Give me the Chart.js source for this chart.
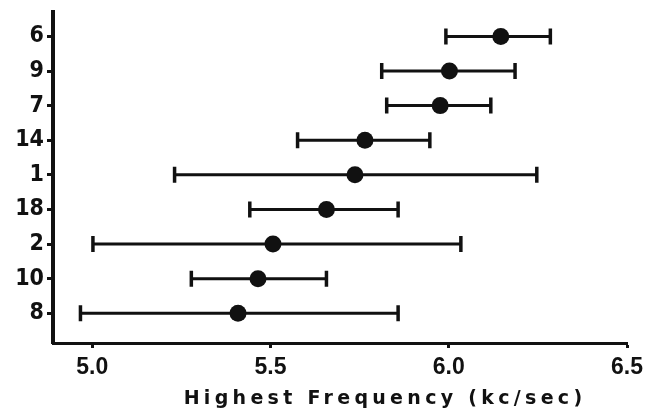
<!DOCTYPE html>
<html>
<head>
<meta charset="utf-8">
<script src="https://cdn.jsdelivr.net/npm/chart.js@4"></script>
<style>
  html, body { margin: 0; padding: 0; background: #fff; }
  #wrap { width: 656px; height: 418px; }
</style>
</head>
<body>
<div id="wrap"><canvas id="c" width="656" height="418"></canvas></div>
<script>
// Subjects (top to bottom)
const categories = ['6', '9', '7', '14', '1', '18', '2', '10', '8'];
// Mean highest frequency (kc/sec)
const means = [6.146, 6.002, 5.976, 5.765, 5.737, 5.657, 5.507, 5.465, 5.409];
// Range low / high (kc/sec)
const lows  = [5.992, 5.812, 5.826, 5.576, 5.231, 5.442, 5.002, 5.278, 4.967];
const highs = [6.285, 6.186, 6.118, 5.947, 6.247, 5.858, 6.034, 5.657, 5.858];
// X axis tick labels
const xTicks = [5.0, 5.5, 6.0, 6.5];
const xTitle = 'Highest Frequency (kc/sec)';

const meanData = means.map((m, i) => ({ x: m, y: i }));
const capData = [];
lows.forEach((l, i) => { capData.push({ x: l, y: i }); capData.push({ x: highs[i], y: i }); });
const whiskerData = [];
lows.forEach((l, i) => {
  whiskerData.push({ x: l, y: i });
  whiskerData.push({ x: highs[i], y: i });
  whiskerData.push({ x: highs[i], y: null });
});

const titlePatch = {
  id: 'titlePatch',
  beforeDraw(chart) {
    const sx = chart.scales.x;
    if (sx && !sx._patched) {
      const orig = sx.drawTitle.bind(sx);
      sx.drawTitle = function () {
        const ctx = this.ctx;
        ctx.save();
        ctx.letterSpacing = '4.3px';
        ctx.translate(45, 0);
        orig();
        ctx.restore();
      };
      sx._patched = true;
    }
  }
};

new Chart(document.getElementById('c'), {
  type: 'scatter',
  data: {
    datasets: [
      {
        data: meanData,
        pointRadius: 8.5,
        pointBackgroundColor: '#111',
        pointBorderColor: '#111',
        pointBorderWidth: 0,
        showLine: false
      },
      {
        data: capData,
        pointStyle: 'line',
        rotation: 90,
        pointRadius: 8,
        pointBorderColor: '#111',
        pointBorderWidth: 3.5,
        showLine: false
      },
      {
        data: whiskerData,
        showLine: true,
        spanGaps: false,
        borderColor: '#111',
        borderWidth: 3,
        pointRadius: 0
      }
    ]
  },
  options: {
    responsive: false,
    animation: false,
    layout: { padding: { left: 0, right: 29, top: 10, bottom: 0 } },
    plugins: { legend: { display: false }, tooltip: { enabled: false } },
    scales: {
      x: {
        type: 'linear',
        min: 4.89,
        max: 6.5,
        afterBuildTicks: (s) => { s.ticks = xTicks.map(v => ({ value: v })); },
        afterFit: (s) => { s.height = 75; },
        border: { display: true, color: '#111', width: 3 },
        grid: { display: true, drawOnChartArea: false, drawTicks: true, tickLength: 5, tickWidth: 3, tickColor: '#111' },
        ticks: {
          color: '#111',
          padding: 6,
          maxRotation: 0,
          font: { family: "'Liberation Sans', Arial, sans-serif", size: 23, weight: 'bold' },
          callback: (v) => Number(v).toFixed(1)
        },
        title: {
          display: true,
          text: xTitle,
          color: '#111',
          padding: { top: 0, bottom: 8 },
          font: { family: "'DejaVu Sans', sans-serif", size: 19, weight: 'bold' }
        }
      },
      y: {
        type: 'linear',
        reverse: true,
        min: -0.72,
        max: 8.86,
        afterBuildTicks: (s) => { s.ticks = categories.map((c, i) => ({ value: i })); },
        afterFit: (s) => { s.width = 53; s.paddingTop = 0; s.paddingBottom = 0; },
        border: { display: true, color: '#111', width: 4 },
        grid: { display: true, drawOnChartArea: false, drawTicks: true, tickLength: 6, tickWidth: 3, tickColor: '#111' },
        ticks: {
          color: '#111',
          padding: 3,
          autoSkip: false,
          font: { family: "'Liberation Sans Narrow', 'DejaVu Sans Condensed', 'Liberation Sans', sans-serif", size: 23, weight: 'bold' },
          callback: (v) => categories[v]
        }
      }
    }
  },
  plugins: [titlePatch]
});
</script>
</body>
</html>
